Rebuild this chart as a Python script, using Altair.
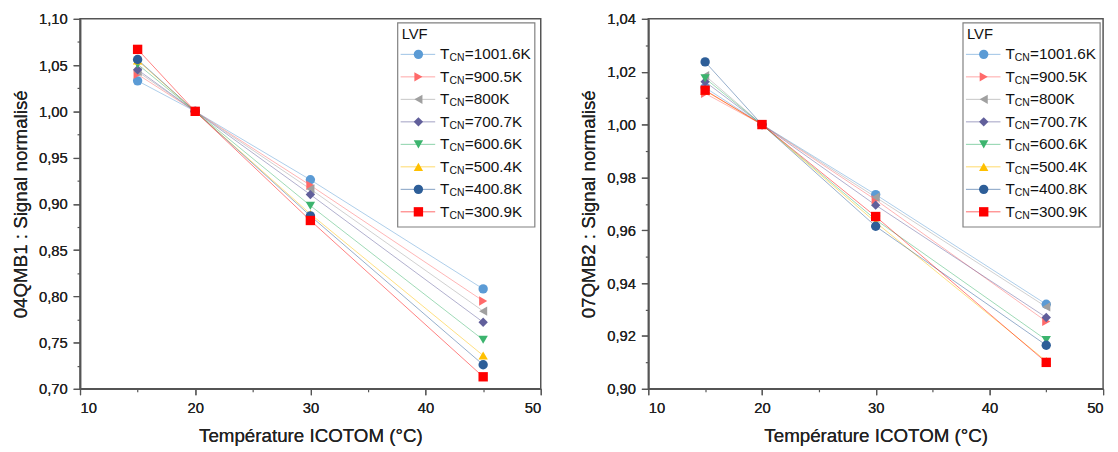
import altair as alt
import pandas as pd

# ---------------- data ----------------
temps = [15, 20, 30, 45]
series_labels = ["1001.6K", "900.5K", "800K", "700.7K", "600.6K", "500.4K", "400.8K", "300.9K"]
colors = ["#5B9BD5", "#FF6A6A", "#A0A0A0", "#615F9B", "#3CB46E", "#FFC000", "#2D5E98", "#FF0000"]
shapes = ["circle", "triangle-right", "triangle-left", "diamond", "triangle-down", "triangle-up", "circle", "square"]

# 04QMB1
q1_1001 = [1.033, 1.000, 0.926, 0.808]
q1_900 = [1.040, 1.000, 0.920, 0.795]
q1_800 = [1.043, 1.000, 0.916, 0.784]
q1_700 = [1.045, 1.000, 0.910, 0.772]
q1_600 = [1.051, 1.000, 0.898, 0.753]
q1_500 = [1.055, 1.000, 0.889, 0.736]
q1_400 = [1.056, 1.000, 0.887, 0.726]
q1_300 = [1.067, 1.000, 0.882, 0.713]

# 07QMB2
q2_1001 = [1.0140, 1.000, 0.9735, 0.9320]
q2_900 = [1.0118, 1.000, 0.9715, 0.9255]
q2_800 = [1.0185, 1.000, 0.9725, 0.9310]
q2_700 = [1.0162, 1.000, 0.9695, 0.9270]
q2_600 = [1.0175, 1.000, 0.9640, 0.9185]
q2_500 = [1.0128, 1.000, 0.9630, 0.9105]
q2_400 = [1.0237, 1.000, 0.9615, 0.9165]
q2_300 = [1.0130, 1.000, 0.9652, 0.9100]

x_major = [10, 20, 30, 40, 50]
x_minor = [15, 25, 35, 45]
y1_major = [0.70, 0.75, 0.80, 0.85, 0.90, 0.95, 1.00, 1.05, 1.10]
y1_minor = [0.725, 0.775, 0.825, 0.875, 0.925, 0.975, 1.025, 1.075]
y2_major = [0.90, 0.92, 0.94, 0.96, 0.98, 1.00, 1.02, 1.04]
y2_minor = [0.91, 0.93, 0.95, 0.97, 0.99, 1.01, 1.03]

FONT = "Liberation Sans"
AXC = "#555555"
LBL = "replace(format(datum.value, '.2f'), '.', ',')"


def make_df(series_values):
    rows = []
    for k, (lab, vals) in enumerate(zip(series_labels, series_values)):
        for t, v in zip(temps, vals):
            rows.append({"serie": lab, "k": k, "temp": t, "sig": v})
    return pd.DataFrame(rows)


color = alt.Color("serie:N", scale=alt.Scale(domain=series_labels, range=colors), legend=None)
shape = alt.Shape("serie:N", scale=alt.Scale(domain=series_labels, range=shapes), legend=None)


def panel(df, ytitle, ydom, ymaj, ymin, w, h, bx):
    x = alt.X("temp:Q", scale=alt.Scale(domain=[10, 50], nice=False),
              axis=alt.Axis(values=x_major, format="d", title="Température ICOTOM (°C)",
                            orient="bottom", grid=False, tickSize=6, labelPadding=6,
                            titlePadding=11, titleFontWeight="normal"))
    y = alt.Y("sig:Q", scale=alt.Scale(domain=ydom, nice=False, zero=False),
              axis=alt.Axis(values=ymaj, labelExpr=LBL, title=ytitle, grid=False,
                            orient="left", tickSize=7, labelPadding=6, titlePadding=8,
                            titleFontWeight="normal"))
    base = alt.Chart(df)
    lines = base.mark_line(strokeWidth=1, opacity=0.5).encode(x=x, y=y, color=color, detail="serie:N")
    pts = base.mark_point(filled=True, size=90, opacity=1).encode(
        x=x, y=y, color=color, shape=shape, order=alt.Order("k:Q"))
    minor = base.mark_point(opacity=0).encode(
        x=alt.X("temp:Q", scale=alt.Scale(domain=[10, 50], nice=False),
                axis=alt.Axis(values=x_minor, labels=False, domain=False, tickSize=3,
                              title=None, orient="bottom", grid=False)),
        y=alt.Y("sig:Q", scale=alt.Scale(domain=ydom, nice=False, zero=False),
                axis=alt.Axis(values=ymin, labels=False, domain=False, tickSize=3,
                              title=None, orient="left", grid=False)))

    leg = pd.DataFrame({"serie": series_labels, "k": list(range(len(series_labels))),
                        "txt": ["=" + s for s in series_labels]})
    y0, step = 36, 22.8
    lb = alt.Chart(leg).transform_calculate(
        ypix=f"{y0} + datum.k * {step}", ysub=f"{y0 + 4} + datum.k * {step}")
    yp = alt.Y("ypix:Q", scale=None)
    box = alt.Chart(pd.DataFrame({"a": [0]})).mark_rect(
        fill="white", stroke="#808080", strokeWidth=1.2).encode(
        x=alt.value(bx), x2=alt.value(bx + 139), y=alt.value(4), y2=alt.value(211))
    title = alt.Chart(pd.DataFrame({"a": [0]})).mark_text(
        align="left", baseline="middle", fontSize=15, font=FONT, color="#111").encode(
        x=alt.value(bx + 4), y=alt.value(15), text=alt.value("LVF"))
    lrule = lb.mark_rule(strokeWidth=1, opacity=0.6).encode(
        x=alt.value(bx + 3), x2=alt.value(bx + 38), y=yp, color=color)
    lpt = lb.mark_point(filled=True, size=90, opacity=1).encode(
        x=alt.value(bx + 21), y=yp, color=color, shape=shape)
    tT = lb.mark_text(align="left", baseline="middle", fontSize=15.5, font=FONT, color="#111").encode(
        x=alt.value(bx + 43), y=yp, text=alt.value("T"))
    tCN = lb.mark_text(align="left", baseline="middle", fontSize=10.5, font=FONT, color="#111").encode(
        x=alt.value(bx + 52.5), y=alt.Y("ysub:Q", scale=None), text=alt.value("CN"))
    tV = lb.mark_text(align="left", baseline="middle", fontSize=15.5, font=FONT, color="#111").encode(
        x=alt.value(bx + 68), y=yp, text="txt:N")

    return alt.layer(minor, lines, pts, box, title, lrule, lpt, tT, tCN, tV).resolve_axis(
        x="independent", y="independent").properties(width=w, height=h)


left = panel(make_df([q1_1001, q1_900, q1_800, q1_700, q1_600, q1_500, q1_400, q1_300]),
             "04QMB1 : Signal normalisé", [0.70, 1.10], y1_major, y1_minor, 467, 375, 322)
right = panel(make_df([q2_1001, q2_900, q2_800, q2_700, q2_600, q2_500, q2_400, q2_300]),
              "07QMB2 : Signal normalisé", [0.90, 1.04], y2_major, y2_minor, 461, 375, 319)

chart = alt.hconcat(left, right, spacing=37).properties(
    padding={"left": 3, "top": 0, "right": 5, "bottom": 0}
).configure(font=FONT).configure_view(
    stroke=AXC, strokeWidth=1.5
).configure_axis(
    domainColor=AXC, domainWidth=1.5, tickColor=AXC, tickWidth=1.2,
    labelFont=FONT, titleFont=FONT, labelFontSize=15, titleFontSize=19,
    labelColor="#222", titleColor="#222", titleFontWeight="normal"
)

chart.save("out.html", embed_options={"renderer": "svg", "actions": False})
